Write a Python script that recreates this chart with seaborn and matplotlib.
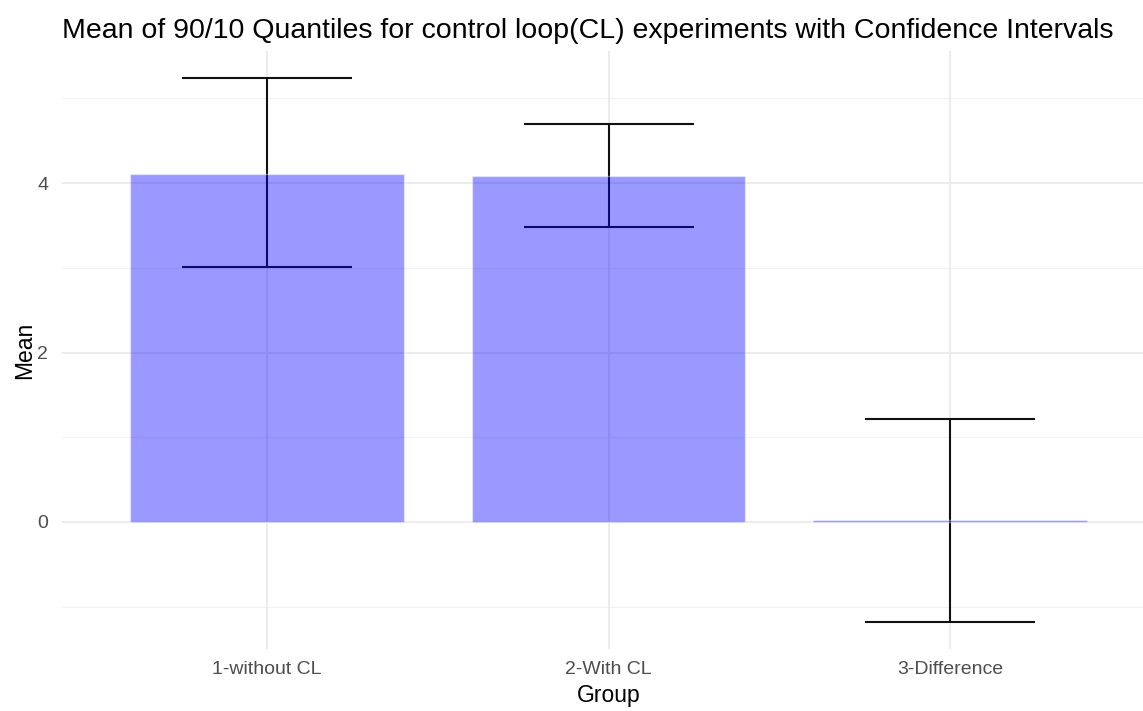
import matplotlib
matplotlib.use("Agg")
import matplotlib.pyplot as plt
import seaborn as sns
import numpy as np
import pandas as pd

# Group means and confidence interval bounds
groups = ["1-without CL", "2-With CL", "3-Difference"]
means = [4.11, 4.08, 0.02]
ci_lower = [3.01, 3.48, -1.18]
ci_upper = [5.24, 4.70, 1.21]

df = pd.DataFrame({"Group": groups, "Mean": means,
                   "lower": ci_lower, "upper": ci_upper})

sns.set_theme(style="white")
plt.rcParams["font.family"] = ["Liberation Sans", "DejaVu Sans"]

fig = plt.figure(figsize=(11.43, 7.11), dpi=100)
W, H = 1143, 711
ax = fig.add_axes([62 / W, 1 - 649 / H, (1155 - 62) / W, (649 - 51) / H])

# grid (ggplot minimal look)
ax.set_axisbelow(True)
for y in [-1, 1, 3, 5]:
    ax.axhline(y, color="#F2F2F2", lw=0.8, zorder=0)
for y in [0, 2, 4]:
    ax.axhline(y, color="#EBEBEB", lw=1.3, zorder=0)
for x in range(len(groups)):
    ax.axvline(x, color="#EBEBEB", lw=1.3, zorder=0)

# error bars sit underneath the translucent bars
ax.errorbar(x=np.arange(len(groups)), y=df["Mean"],
            yerr=[df["Mean"] - df["lower"], df["upper"] - df["Mean"]],
            fmt="none", ecolor="#111111", elinewidth=1.5, capsize=61,
            capthick=1.5, zorder=2)

sns.barplot(data=df, x="Group", y="Mean", color="blue", alpha=0.4,
            saturation=1, width=0.8, ax=ax, zorder=3)

ax.set_xlim(-0.6, 2.6)
ax.set_ylim(-1.50, 5.56)
ax.set_yticks([0, 2, 4])
ax.set_yticklabels(["0", "2", "4"])

for s in ax.spines.values():
    s.set_visible(False)
ax.tick_params(axis="both", length=0, colors="#4D4D4D", labelsize=14)
ax.tick_params(axis="x", pad=9)
ax.tick_params(axis="y", pad=10)

ax.set_xlabel("Group", fontsize=16.5, color="black", labelpad=4)
ax.set_ylabel("Mean", fontsize=16.5, color="black", labelpad=1)
fig.text(62 / W, 1 - 31 / H,
         "Mean of 90/10 Quantiles for control loop(CL) experiments with Confidence Intervals",
         fontsize=20.5, color="black", ha="left", va="center")

fig.savefig("out.png", dpi=100, facecolor="white")
